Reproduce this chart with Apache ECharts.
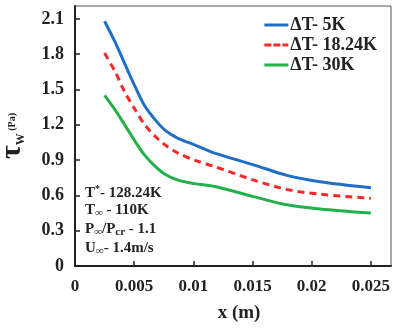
<!DOCTYPE html>
<html>
<head>
<meta charset="utf-8">
<script src="https://cdn.jsdelivr.net/npm/echarts@6/dist/echarts.min.js"></script>
<style>
  html, body { margin: 0; padding: 0; background: #fff; }
  #chart { width: 393px; height: 329px; }
</style>
</head>
<body>
<div id="chart"></div>
<script>
// x positions (m)
const xs = [0.0025, 0.0034, 0.0042, 0.0051, 0.0059, 0.0068, 0.0076, 0.0087, 0.0101, 0.0118, 0.0151, 0.0179, 0.0207, 0.025];
// wall shear stress (Pa) per temperature difference
const dt5 = [2.08, 1.90, 1.72, 1.52, 1.36, 1.24, 1.155, 1.085, 1.03, 0.96, 0.86, 0.77, 0.716, 0.665];
const dt18 = [1.81, 1.65, 1.48, 1.325, 1.2, 1.10, 1.03, 0.96, 0.90, 0.845, 0.73, 0.65, 0.61, 0.575];
const dt30 = [1.45, 1.325, 1.2, 1.056, 0.94, 0.845, 0.78, 0.73, 0.70, 0.675, 0.59, 0.52, 0.485, 0.45];
const names = ['ΔT- 5K', 'ΔT- 18.24K', 'ΔT- 30K'];
const colors = ['#1f6fc8', '#f42a2a', '#22b04b'];
const noteLines = [
  'T{sup|*}- 128.24K',
  'T{sub|∞} - 110K',
  'P{sub|∞}/P{sub|cr} - 1.1',
  'U{sub|∞}- 1.4m/s'
];

const font = 'Liberation Serif';
const solidIcon = 'path://M0,0h24v3h-24z';
const dashIcon = 'path://M0,0h7v3h-7z M9,0h7v3h-7z M18,0h6v3h-6z';

function pairs(ys) {
  return xs.map((x, i) => [x, ys[i]]);
}

var chartDom = document.getElementById('chart');
var myChart = echarts.init(chartDom);
var option;

option = {
  animation: false,
  grid: {
    left: 75, top: 6, right: 2, bottom: 63,
    containLabel: false,
    outerBoundsMode: 'none',
    show: true,
    borderColor: '#555',
    borderWidth: 1
  },
  legend: {
    right: 11,
    top: 11,
    orient: 'vertical',
    itemGap: 2,
    itemWidth: 24,
    itemHeight: 3,
    textStyle: { fontFamily: font, fontWeight: 'bold', fontSize: 18, color: '#222', padding: [0, 0, 0, -3] },
    data: [
      { name: names[0], icon: solidIcon },
      { name: names[1], icon: dashIcon },
      { name: names[2], icon: solidIcon }
    ]
  },
  xAxis: {
    type: 'value',
    min: 0,
    max: 0.0267,
    interval: 0.005,
    name: 'x (m)',
    nameLocation: 'middle',
    nameGap: 38,
    nameTextStyle: { fontFamily: font, fontWeight: 'bold', fontSize: 19, color: '#222', padding: [0, 0, 0, 12] },
    axisLine: { lineStyle: { color: '#222', width: 2 } },
    axisTick: { inside: true, length: 5, lineStyle: { color: '#222', width: 1.5 } },
    splitLine: { show: false },
    axisLabel: {
      showMaxLabel: false,
      margin: 12,
      fontFamily: font, fontWeight: 'bold', fontSize: 17, color: '#222',
      formatter: v => String(+v.toFixed(3))
    }
  },
  yAxis: {
    type: 'value',
    min: 0,
    max: 2.21,
    interval: 0.3,
    name: '{t|τ}{s|W}{p| (Pa)}',
    nameLocation: 'middle',
    nameRotate: 90,
    nameGap: 48,
    nameTextStyle: {
      padding: [0, 0, 0, 0],
      rich: {
        t: { fontFamily: font, fontWeight: 'bold', fontSize: 30, color: '#222', lineHeight: 30 },
        s: { fontFamily: font, fontWeight: 'bold', fontSize: 12, color: '#222', verticalAlign: 'bottom', lineHeight: 30, padding: [10, 0, 0, 0] },
        p: { fontFamily: font, fontWeight: 'bold', fontSize: 10, color: '#222', lineHeight: 30 }
      }
    },
    axisLine: { show: true, lineStyle: { color: '#222', width: 2 } },
    axisTick: { show: true, inside: true, length: 5, lineStyle: { color: '#222', width: 1.5 } },
    splitLine: { show: false },
    axisLabel: {
      showMaxLabel: false,
      margin: 11,
      fontFamily: font, fontWeight: 'bold', fontSize: 18, color: '#222',
      formatter: v => String(+v.toFixed(1))
    }
  },
  graphic: noteLines.map((txt, i) => ({
    type: 'text',
    left: 85,
    top: 184 + i * 19,
    style: {
      text: txt,
      fill: '#222',
      font: 'bold 15px "Liberation Serif"',
      rich: {
        sup: { font: 'bold 10px "Liberation Serif"', fill: '#222', verticalAlign: 'top', padding: [0, 0, 8, 0] },
        sub: { font: 'bold 11px "Liberation Serif"', fill: '#222', verticalAlign: 'bottom', padding: [6, 0, 0, 0] }
      }
    }
  })),
  series: [
    { name: names[0], type: 'line', smooth: 0.3, symbol: 'none', data: pairs(dt5),
      lineStyle: { color: colors[0], width: 3 }, itemStyle: { color: colors[0] } },
    { name: names[1], type: 'line', smooth: 0.3, symbol: 'none', data: pairs(dt18),
      lineStyle: { color: colors[1], width: 3, type: [7, 5] }, itemStyle: { color: colors[1] } },
    { name: names[2], type: 'line', smooth: 0.3, symbol: 'none', data: pairs(dt30),
      lineStyle: { color: colors[2], width: 3 }, itemStyle: { color: colors[2] } }
  ]
};

option && myChart.setOption(option);
</script>
</body>
</html>
